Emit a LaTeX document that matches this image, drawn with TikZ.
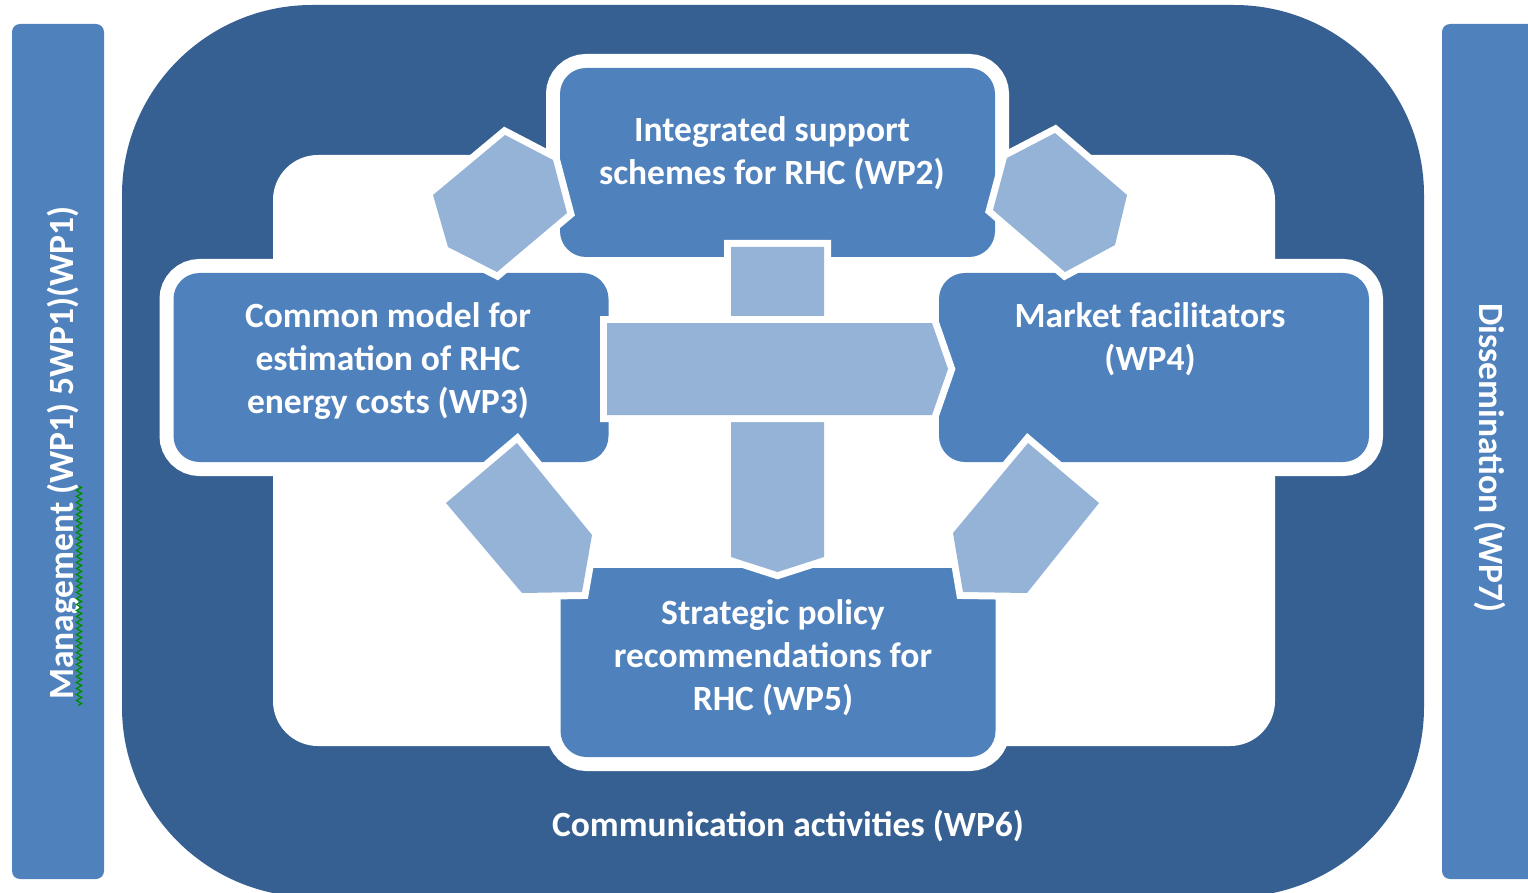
\documentclass[tikz,border=0pt]{standalone}
\usepackage{fontspec}
\setmainfont{Carlito}
\usetikzlibrary{decorations.pathmorphing}
\definecolor{darkb}{HTML}{366092}
\definecolor{midb}{HTML}{4F81BD}
\definecolor{lightb}{HTML}{95B3D7}
\begin{document}
\begin{tikzpicture}[x=1pt,y=-1pt,
  box/.style={rectangle, rounded corners=26pt, fill=midb,
    preaction={draw=white,line width=28pt},
    minimum width=435pt, minimum height=189pt, inner sep=0pt},
  flow/.style={fill=lightb, preaction={draw=white,line width=14pt,line join=miter}},
  lbl/.style={text=white, font=\fontsize{35.5}{43}\selectfont\bfseries, align=center, inner sep=0pt},
  bar/.style={fill=midb, rounded corners=8pt},
]
\useasboundingbox (0,0) rectangle (1528,893);
\clip (0,0) rectangle (1528,893);
% side bars
\fill[bar] (12,24) rectangle (104,879);
\fill[bar] (1442,24) rectangle (1548,879);
% outer ring and inner field
\fill[darkb, rounded corners=190pt] (122,5) rectangle (1424,897);
\fill[white, rounded corners=45pt] (273,155) rectangle (1275,746);
% boxes
\node[box] (wp2) at (777.5,162.5) {};
\node[box] (wp3) at (391,367.5) {};
\node[box, minimum width=430pt] (wp4) at (1154,367.5) {};
\node[box] (wp5) at (778,662.5) {};
% cycle arrows
\path[flow] (505,135) -- (553,160) -- (567,213) -- (497,272) -- (448,247) -- (433,195) -- cycle;
\path[flow] (1055,133) -- (1127,195) -- (1115,245) -- (1065,272) -- (993,210) -- (1007,158) -- cycle;
\path[flow] (517,443) -- (592,535) -- (582,592) -- (522,593) -- (446,503) -- cycle;
\path[flow] (1028,443) -- (1099,503) -- (1027,593) -- (963,592) -- (953,533) -- cycle;
% central cross arrows
\path[flow] (731,247) -- (824,247) -- (824,557) -- (777.5,572) -- (731,557) -- cycle;
\path[flow] (607,323) -- (932,323) -- (948,369) -- (932,415) -- (607,415) -- cycle;
% texts
\node[lbl] (t2) at (772,153) {Integrated support\\schemes for RHC (WP2)};
\node[lbl] (t3) at (388,361) {Common model for\\estimation of RHC\\energy costs (WP3)};
\node[lbl] (t4) at (1150,339) {Market facilitators\\(WP4)};
\node[lbl] (t5) at (773,658) {Strategic policy\\recommendations for\\RHC (WP5)};
\node[lbl] (t6) at (788,826) {Communication activities (WP6)};
\node[lbl, rotate=90] (t1) at (63,453) {Management (WP1) 5WP1)(WP1)};
\node[lbl, rotate=-90] (t7) at (1490,458) {Dissemination (WP7)};
% spell-check squiggle
\draw[green!55!black, line width=1.3pt, decorate,
  decoration={zigzag, segment length=6pt, amplitude=2.5pt}] (79,486) -- (79,706);
\end{tikzpicture}
\end{document}
